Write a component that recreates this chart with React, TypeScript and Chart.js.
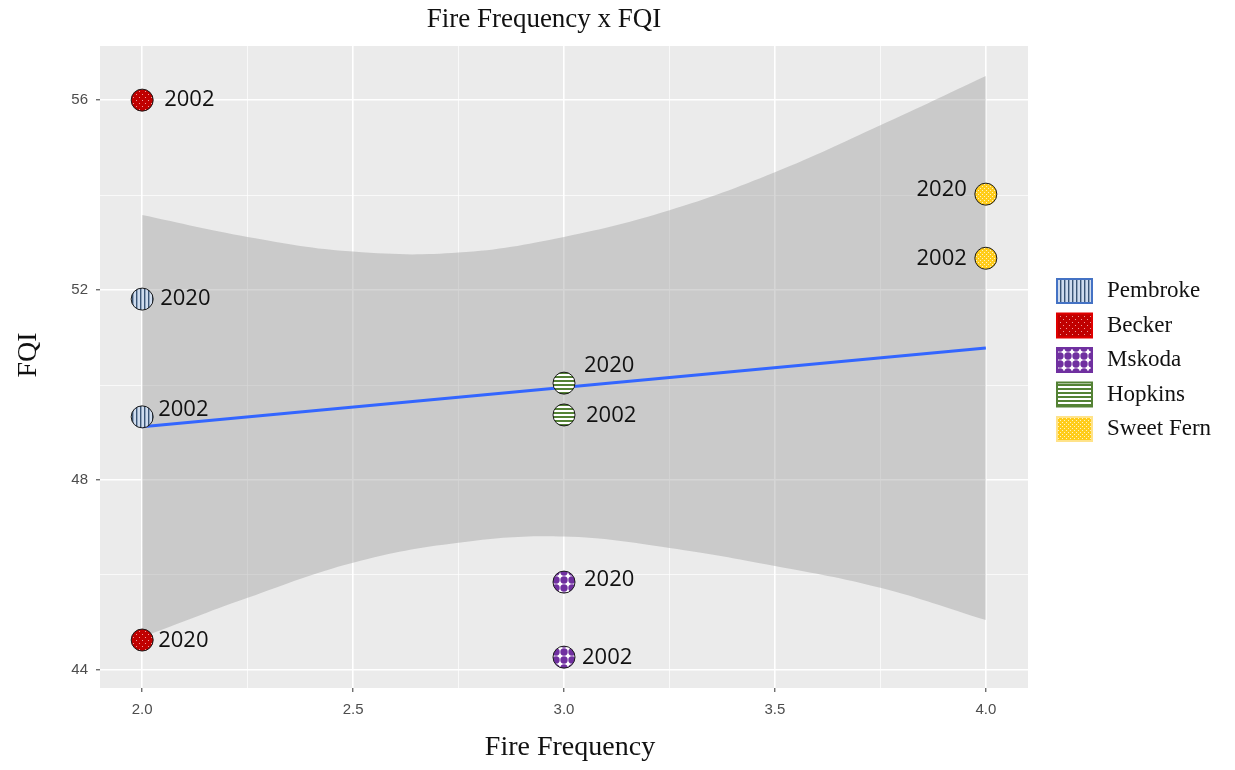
import React, { useEffect, useRef } from 'react';
import { Chart, registerables } from 'chart.js';

Chart.register(...registerables);

// Sites, their fire frequency and FQI values for the two survey years
const sites = ['Pembroke', 'Becker', 'Mskoda', 'Hopkins', 'Sweet Fern'];
const fireFrequency = [2, 2, 3, 3, 4];
const fqi2002 = [49.33, 56.0, 44.27, 49.37, 52.67];
const fqi2020 = [51.81, 44.63, 45.85, 50.04, 54.02];
const surveyYears = ['2002', '2020'];

// Linear fit and its confidence ribbon
const fitX = [2, 4];
const fitY = [49.12, 50.78];
const bandX = [2, 2.25, 2.5, 2.75, 3, 3.25, 3.5, 3.75, 4];
const bandUpper = [53.58, 53.12, 52.81, 52.79, 53.12, 53.68, 54.48, 55.47, 56.51];
const bandLower = [44.69, 45.52, 46.26, 46.68, 46.81, 46.57, 46.19, 45.73, 45.05];

// Labelled axis ticks
const xTickLabels = [2.0, 2.5, 3.0, 3.5, 4.0];
const yTickLabels = [44, 48, 52, 56];

// Year-label offsets (px) from each point: [2002, 2020] as [dx, dy, align]
const labelOffsets: [number, number, CanvasTextAlign][][] = [
  [[16, -7, 'left'], [18, 0, 'left']],
  [[22, 0, 'left'], [16, 1, 'left']],
  [[18, 1, 'left'], [20, -2, 'left']],
  [[22, 1, 'left'], [20, -17, 'left']],
  [[-19, 0, 'right'], [-19, -4, 'right']],
];

const legendBorders = ['#4472C4', '#E00000', '#7030A0', '#548235', '#FFE38A'];

function tile(w: number, h: number, draw: (c: CanvasRenderingContext2D) => void) {
  const cv = document.createElement('canvas');
  cv.width = w;
  cv.height = h;
  const c = cv.getContext('2d')!;
  draw(c);
  return c.createPattern(cv, 'repeat')!;
}

function makePatterns(): CanvasPattern[] {
  const pembroke = tile(4, 4, (c) => {
    c.fillStyle = '#CFDCEE';
    c.fillRect(0, 0, 4, 4);
    c.fillStyle = '#3A5576';
    c.fillRect(0, 0, 1.4, 4);
  });
  const becker = tile(6, 6, (c) => {
    c.fillStyle = '#C00000';
    c.fillRect(0, 0, 6, 6);
    c.fillStyle = 'rgba(255,210,210,0.75)';
    c.fillRect(1, 1, 1, 1);
    c.fillRect(4, 4, 1, 1);
  });
  const mskoda = tile(8, 8, (c) => {
    c.fillStyle = '#FFFFFF';
    c.fillRect(0, 0, 8, 8);
    c.fillStyle = '#7030A0';
    c.beginPath();
    c.arc(4, 4, 3.7, 0, Math.PI * 2);
    c.fill();
  });
  const hopkins = tile(4, 4, (c) => {
    c.fillStyle = '#FFFFFF';
    c.fillRect(0, 0, 4, 4);
    c.fillStyle = '#548235';
    c.fillRect(0, 0, 4, 2);
  });
  const sweetFern = tile(4, 4, (c) => {
    c.fillStyle = '#FFCC1A';
    c.fillRect(0, 0, 4, 4);
    c.fillStyle = '#FFF3C4';
    c.fillRect(0, 0, 1, 1);
    c.fillRect(2, 2, 1, 1);
  });
  return [pembroke, becker, mskoda, hopkins, sweetFern];
}

export default function App() {
  const canvasRef = useRef<HTMLCanvasElement | null>(null);

  useEffect(() => {
    document.body.style.margin = '0';
    const canvas = canvasRef.current;
    if (!canvas) return;
    const patterns = makePatterns();

    const panelBg = {
      id: 'panelBg',
      beforeDraw(chart: Chart) {
        const { ctx, chartArea: a } = chart;
        ctx.save();
        ctx.fillStyle = '#FFFFFF';
        ctx.fillRect(0, 0, chart.width, chart.height);
        ctx.fillStyle = '#EBEBEB';
        ctx.fillRect(a.left, a.top, a.right - a.left, a.bottom - a.top);
        ctx.restore();
      },
    };

    const yearLabels = {
      id: 'yearLabels',
      afterDatasetsDraw(chart: Chart) {
        const ctx = chart.ctx;
        ctx.save();
        ctx.font = '22px "Open Sans"';
        ctx.fillStyle = '#111111';
        ctx.textBaseline = 'middle';
        sites.forEach((_, si) => {
          const meta = chart.getDatasetMeta(3 + si);
          meta.data.forEach((pt: any, yi: number) => {
            const [dx, dy, align] = labelOffsets[si][yi];
            ctx.textAlign = align;
            ctx.fillText(surveyYears[yi], pt.x + dx, pt.y + dy);
          });
        });
        ctx.restore();
      },
    };

    const annotations = {
      id: 'annotations',
      afterDraw(chart: Chart) {
        const ctx = chart.ctx;
        ctx.save();
        ctx.fillStyle = '#111111';
        ctx.textBaseline = 'middle';
        ctx.textAlign = 'center';
        ctx.font = '27px "Liberation Serif"';
        ctx.fillText('Fire Frequency x FQI', 544, 20);
        ctx.font = '28px "Liberation Serif"';
        ctx.fillText('Fire Frequency', 570, 748);
        ctx.save();
        ctx.translate(29, 355);
        ctx.rotate(-Math.PI / 2);
        ctx.fillText('FQI', 0, 0);
        ctx.restore();

        // legend
        ctx.textAlign = 'left';
        ctx.font = '23px "Liberation Serif"';
        sites.forEach((name, i) => {
          const cy = 291 + i * 34.5;
          ctx.fillStyle = patterns[i];
          ctx.fillRect(1057, cy - 12, 35, 24);
          ctx.strokeStyle = legendBorders[i];
          ctx.lineWidth = 2;
          ctx.strokeRect(1057, cy - 12, 35, 24);
          ctx.fillStyle = '#111111';
          ctx.fillText(name, 1107, cy);
        });
        ctx.restore();
      },
    };

    const isMajorX = (v: number) => xTickLabels.some((t) => Math.abs(t - v) < 1e-6);
    const isMajorY = (v: number) => yTickLabels.some((t) => Math.abs(t - v) < 1e-6);

    const siteDatasets = sites.map((name, i) => ({
      type: 'scatter' as const,
      label: name,
      data: [
        { x: fireFrequency[i], y: fqi2002[i] },
        { x: fireFrequency[i], y: fqi2020[i] },
      ],
      pointRadius: 11,
      pointHoverRadius: 11,
      pointBackgroundColor: patterns[i],
      pointBorderColor: '#1A1A1A',
      pointBorderWidth: 1,
      order: 1,
    }));

    const chart = new Chart(canvas, {
      type: 'scatter',
      data: {
        datasets: [
          {
            type: 'line',
            label: 'lower',
            data: bandX.map((x, i) => ({ x, y: bandLower[i] })),
            borderWidth: 0,
            borderColor: 'rgba(0,0,0,0)',
            pointRadius: 0,
            tension: 0.4,
            fill: false,
            order: 3,
          },
          {
            type: 'line',
            label: 'upper',
            data: bandX.map((x, i) => ({ x, y: bandUpper[i] })),
            borderWidth: 0,
            borderColor: 'rgba(0,0,0,0)',
            pointRadius: 0,
            tension: 0.4,
            fill: '-1',
            backgroundColor: 'rgba(153,153,153,0.4)',
            order: 3,
          },
          {
            type: 'line',
            label: 'fit',
            data: fitX.map((x, i) => ({ x, y: fitY[i] })),
            borderColor: '#3366FF',
            borderWidth: 3,
            pointRadius: 0,
            fill: false,
            order: 2,
          },
          ...siteDatasets,
        ] as any,
      },
      options: {
        responsive: false,
        animation: false,
        events: [],
        layout: { padding: { left: 0, top: 46, right: 207, bottom: 0 } },
        plugins: {
          legend: { display: false },
          title: { display: false },
          tooltip: { enabled: false },
        },
        scales: {
          x: {
            type: 'linear',
            min: 1.9,
            max: 4.1,
            afterFit: (s: any) => {
              s.height = 82;
            },
            border: { display: false },
            grid: {
              color: '#FFFFFF',
              lineWidth: (c: any) => (isMajorX(c.tick.value) ? 1.6 : 0.7),
              tickColor: (c: any) => (isMajorX(c.tick.value) ? '#333333' : 'rgba(0,0,0,0)'),
              tickLength: 4,
              tickWidth: 1,
            },
            ticks: {
              stepSize: 0.25,
              includeBounds: false,
              autoSkip: false,
              maxRotation: 0,
              padding: 9,
              color: '#4D4D4D',
              font: { family: '"Liberation Sans"', size: 15 },
              callback: (v: any) => (isMajorX(Number(v)) ? Number(v).toFixed(1) : ''),
            },
          },
          y: {
            type: 'linear',
            min: 43.62,
            max: 57.14,
            afterFit: (s: any) => {
              s.width = 100;
            },
            border: { display: false },
            grid: {
              color: '#FFFFFF',
              lineWidth: (c: any) => (isMajorY(c.tick.value) ? 1.6 : 0.7),
              tickColor: (c: any) => (isMajorY(c.tick.value) ? '#333333' : 'rgba(0,0,0,0)'),
              tickLength: 4,
              tickWidth: 1,
            },
            ticks: {
              stepSize: 2,
              includeBounds: false,
              autoSkip: false,
              padding: 8,
              color: '#4D4D4D',
              font: { family: '"Liberation Sans"', size: 15 },
              callback: (v: any) => (isMajorY(Number(v)) ? String(v) : ''),
            },
          },
        },
      },
      plugins: [panelBg, yearLabels, annotations],
    });

    return () => chart.destroy();
  }, []);

  return (
    <div style={{ width: 1235, height: 770 }}>
      <canvas ref={canvasRef} width={1235} height={770} style={{ width: 1235, height: 770, display: 'block' }} />
    </div>
  );
}
